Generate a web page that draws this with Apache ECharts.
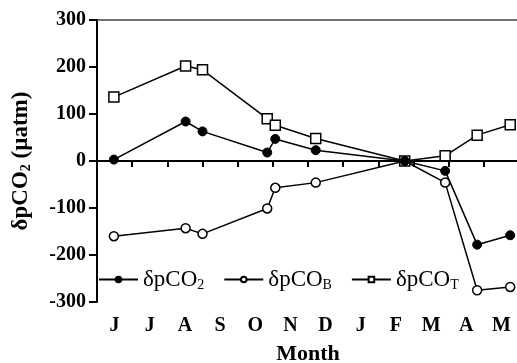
<!DOCTYPE html>
<html>
<head>
<meta charset="utf-8">
<script src="https://cdn.jsdelivr.net/npm/echarts@6/dist/echarts.min.js"></script>
<style>
  html, body { margin: 0; padding: 0; background: #fff; }
  #chart { width: 517px; height: 363px; }
</style>
</head>
<body>
<div id="chart"></div>
<script>
// month positions: 0 = start of June, 12 = end of May
var months = ['J', 'J', 'A', 'S', 'O', 'N', 'D', 'J', 'F', 'M', 'A', 'M'];
var samplePos = [0.48, 2.52, 3.0, 4.84, 5.07, 6.22, 8.75, 9.9, 10.81, 11.75];

var co2 = [3, 84, 63, 18, 47, 23, 0, -21, -178, -158];
var co2B = [-160, -143, -155, -101, -57, -46, 0, -46, -275, -268];
var co2T = [136, 202, 194, 90, 76, 48, 0, 11, 55, 77];

var yTicks = { min: -300, max: 300, step: 100 };

var font = 'Liberation Serif';

function pairs(vals) {
    return vals.map(function (v, i) { return [samplePos[i], v]; });
}

var legendNames = {
    dpCO2: '{m|δpCO}{s|2}',
    dpCOB: '{m|δpCO}{s|B}',
    dpCOT: '{m|δpCO}{s|T}'
};

var chartDom = document.getElementById('chart');
var myChart = echarts.init(chartDom);
var option;

var lineStyle = { color: '#000', width: 1.5 };

option = {
    animation: false,
    textStyle: { fontFamily: font },
    grid: { left: 97, top: 20, width: 422, bottom: 61, containLabel: false, outerBoundsMode: 'none' },
    legend: {
        left: 98,
        top: 268,
        padding: 0,
        itemWidth: 39,
        itemHeight: 7,
        itemGap: 19,
        data: ['dpCO2', 'dpCOB', 'dpCOT'],
        formatter: function (name) { return legendNames[name]; },
        textStyle: {
            color: '#000',
            rich: {
                m: { fontFamily: font, fontSize: 23, color: '#000' },
                s: { fontFamily: font, fontSize: 14, color: '#000', padding: [11, 0, 0, 0] }
            }
        }
    },
    xAxis: [
        {
            type: 'value',
            min: 0,
            max: 12,
            interval: 1,
            position: 'bottom',
            name: 'Month',
            nameLocation: 'middle',
            nameGap: 41,
            nameTextStyle: { fontFamily: font, fontSize: 22, fontWeight: 'bold', color: '#000' },
            axisLine: { lineStyle: { color: '#000', width: 2 } },
            axisTick: { length: 6, lineStyle: { color: '#000', width: 2 } },
            axisLabel: { show: false },
            splitLine: { show: false }
        },
        {
            type: 'category',
            data: months,
            position: 'bottom',
            boundaryGap: true,
            axisLine: { show: false },
            axisTick: { show: false },
            axisLabel: { fontFamily: font, fontSize: 20, fontWeight: 'bold', color: '#000', margin: 14 }
        },
        {
            type: 'value',
            min: 0,
            max: 12,
            position: 'top',
            axisLine: { lineStyle: { color: '#444', width: 1.5 } },
            axisTick: { show: false },
            axisLabel: { show: false },
            splitLine: { show: false }
        }
    ],
    yAxis: {
        type: 'value',
        min: yTicks.min,
        max: yTicks.max,
        interval: yTicks.step,
        name: '{m|δpCO}{s|2}{m| (µatm)}',
        nameLocation: 'middle',
        nameGap: 64,
        nameTextStyle: {
            rich: {
                m: { fontFamily: font, fontSize: 23, fontWeight: 'bold', color: '#000' },
                s: { fontFamily: font, fontSize: 14, fontWeight: 'bold', color: '#000', padding: [10, 0, 0, 0] }
            }
        },
        axisLine: { lineStyle: { color: '#000', width: 2 } },
        axisTick: { length: 8, lineStyle: { color: '#000', width: 2 } },
        axisLabel: { fontFamily: font, fontSize: 20, fontWeight: 'bold', color: '#000', margin: 11 },
        splitLine: { show: false }
    },
    series: [
        {
            name: 'dpCOB',
            type: 'line',
            data: pairs(co2B),
            symbol: 'circle',
            symbolSize: 9,
            lineStyle: lineStyle,
            itemStyle: { color: '#fff', borderColor: '#000', borderWidth: 1.5 },
            markLine: {
                silent: true,
                symbol: 'none',
                label: { show: false },
                lineStyle: { color: '#000', width: 1.5, type: 'solid' },
                data: [{ yAxis: 0 }]
            }
        },
        {
            name: 'dpCOT',
            type: 'line',
            data: pairs(co2T),
            symbol: 'rect',
            symbolSize: 10,
            lineStyle: lineStyle,
            itemStyle: { color: '#fff', borderColor: '#000', borderWidth: 1.5 }
        },
        {
            name: 'dpCO2',
            type: 'line',
            data: pairs(co2),
            symbol: 'circle',
            symbolSize: 9,
            lineStyle: lineStyle,
            itemStyle: { color: '#000', borderColor: '#000', borderWidth: 1 }
        }
    ]
};

option && myChart.setOption(option);
</script>
</body>
</html>
